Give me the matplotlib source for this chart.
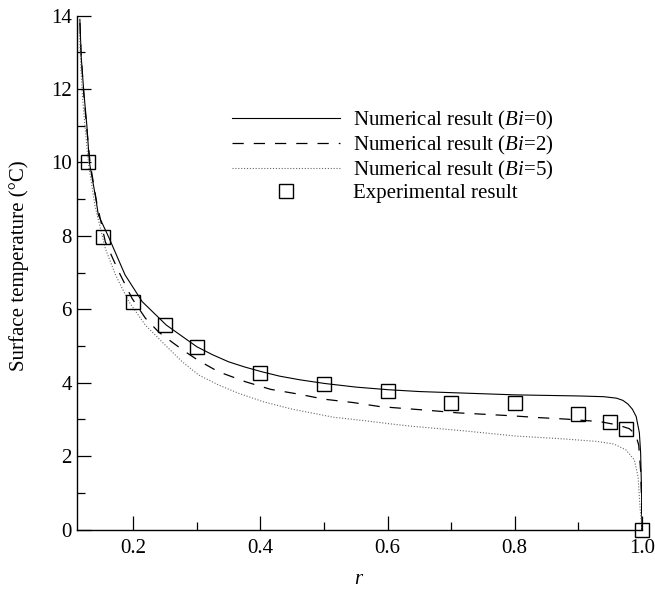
import matplotlib
matplotlib.use("Agg")
import matplotlib.pyplot as plt
from matplotlib.ticker import MultipleLocator

plt.rcParams["font.family"] = ["Liberation Serif", "DejaVu Serif"]
plt.rcParams["mathtext.fontset"] = "custom"
plt.rcParams["mathtext.rm"] = "Liberation Serif"
plt.rcParams["mathtext.it"] = "Liberation Serif:italic"

# Numerical result, Bi = 0
r_bi0 = [0.116, 0.118, 0.122, 0.127, 0.131, 0.141, 0.145, 0.161, 0.187, 0.214,
         0.252, 0.300, 0.325, 0.350, 0.375, 0.402, 0.430, 0.462, 0.501, 0.551,
         0.601, 0.650, 0.700, 0.800, 0.900, 0.940, 0.960, 0.970, 0.978, 0.985,
         0.991, 0.996, 0.998, 0.9995, 1.000]
t_bi0 = [13.9, 12.9, 11.96, 11.0, 10.0, 9.03, 8.57, 7.98, 6.94, 6.21,
         5.57, 4.98, 4.76, 4.57, 4.43, 4.30, 4.18, 4.08, 3.98, 3.88,
         3.81, 3.76, 3.73, 3.67, 3.64, 3.62, 3.58, 3.52, 3.42, 3.28,
         3.08, 2.64, 2.09, 1.00, 0.00]

# Numerical result, Bi = 2
r_bi2 = [0.116, 0.118, 0.122, 0.127, 0.132, 0.142, 0.156, 0.177, 0.198, 0.219,
         0.240, 0.263, 0.283, 0.303, 0.334, 0.376, 0.416, 0.460, 0.501, 0.546,
         0.588, 0.670, 0.710, 0.753, 0.795, 0.838, 0.880, 0.934, 0.962, 0.980,
         0.990, 0.995, 0.998, 0.9995, 1.000]
t_bi2 = [13.8, 12.9, 11.9, 10.9, 10.0, 8.95, 7.84, 7.03, 6.30, 5.76,
         5.38, 5.08, 4.83, 4.60, 4.30, 4.03, 3.82, 3.69, 3.55, 3.46,
         3.35, 3.24, 3.18, 3.14, 3.10, 3.05, 3.01, 2.94, 2.85, 2.75,
         2.60, 2.30, 1.60, 0.80, 0.00]

# Numerical result, Bi = 5
r_bi5 = [0.115, 0.117, 0.120, 0.125, 0.130, 0.140, 0.156, 0.172, 0.193, 0.219,
         0.250, 0.277, 0.303, 0.334, 0.366, 0.405, 0.450, 0.515, 0.562, 0.609,
         0.641, 0.720, 0.800, 0.877, 0.930, 0.956, 0.975, 0.988, 0.994, 0.997,
         1.000]
t_bi5 = [13.7, 12.8, 11.8, 10.8, 9.9, 8.8, 7.66, 6.94, 6.21, 5.57,
         5.03, 4.57, 4.21, 3.94, 3.71, 3.48, 3.28, 3.06, 2.97, 2.87,
         2.81, 2.69, 2.55, 2.47, 2.40, 2.33, 2.17, 1.90, 1.44, 0.62,
         0.00]

# Experimental result
r_exp = [0.128, 0.153, 0.200, 0.250, 0.300, 0.400, 0.500, 0.600, 0.700, 0.800,
         0.900, 0.950, 0.975, 1.000]
t_exp = [10.0, 7.98, 6.19, 5.57, 4.97, 4.26, 3.97, 3.77, 3.44, 3.46,
         3.14, 2.94, 2.74, 0.00]

labels = ["Numerical result ($\\mathit{Bi}$=0)",
          "Numerical result ($\\mathit{Bi}$=2)",
          "Numerical result ($\\mathit{Bi}$=5)",
          "Experimental result"]

fig = plt.figure(figsize=(6.55, 5.89), dpi=100)
ax = fig.add_axes([0.1171, 0.1009, 0.8629, 0.8725])

ax.plot(r_bi0, t_bi0, color="black", lw=0.8, label=labels[0])
ax.plot(r_bi2, t_bi2, color="black", lw=0.9, dashes=(9, 8), label=labels[1])
ax.plot(r_bi5, t_bi5, color="#666666", lw=0.8, dashes=(1, 1.6), label=labels[2])
ax.plot(r_exp, t_exp, linestyle="none", marker="s", markersize=10,
        markerfacecolor="none", markeredgecolor="black", markeredgewidth=1.0,
        clip_on=False, label=labels[3])

ax.set_xlim(0.111, 1.0)
ax.set_ylim(0, 14)
ax.xaxis.set_major_locator(MultipleLocator(0.2))
ax.xaxis.set_minor_locator(MultipleLocator(0.1))
ax.yaxis.set_major_locator(MultipleLocator(2))
ax.yaxis.set_minor_locator(MultipleLocator(1))
ax.set_xticks([0.2, 0.4, 0.6, 0.8, 1.0])
ax.set_xticklabels(["0.2", "0.4", "0.6", "0.8", "1.0"])

for side in ("top", "right"):
    ax.spines[side].set_visible(False)
for side in ("left", "bottom"):
    ax.spines[side].set_linewidth(1.0)

ax.tick_params(which="both", direction="in", top=False, right=False, width=0.9)
ax.tick_params(which="major", length=10, labelsize=15)
ax.tick_params(axis="y", which="major", pad=3.6)
ax.tick_params(axis="x", which="major", pad=6.5)
ax.tick_params(which="minor", length=6)

ax.set_ylabel("Surface temperature (°C)", fontsize=15)
ax.yaxis.set_label_coords(-0.084, 0.513)
ax.set_xlabel("$\\mathit{r}$", fontsize=15)
ax.xaxis.set_label_coords(0.5, -0.078)

ax.legend(loc="upper left", bbox_to_anchor=(232 / 655, 1 - 108.5 / 589),
          bbox_transform=fig.transFigure, frameon=False, fontsize=15,
          handlelength=5.2, handletextpad=0.6, labelspacing=0.1,
          borderpad=0, borderaxespad=0, numpoints=1)

fig.savefig("out.png", dpi=100)
